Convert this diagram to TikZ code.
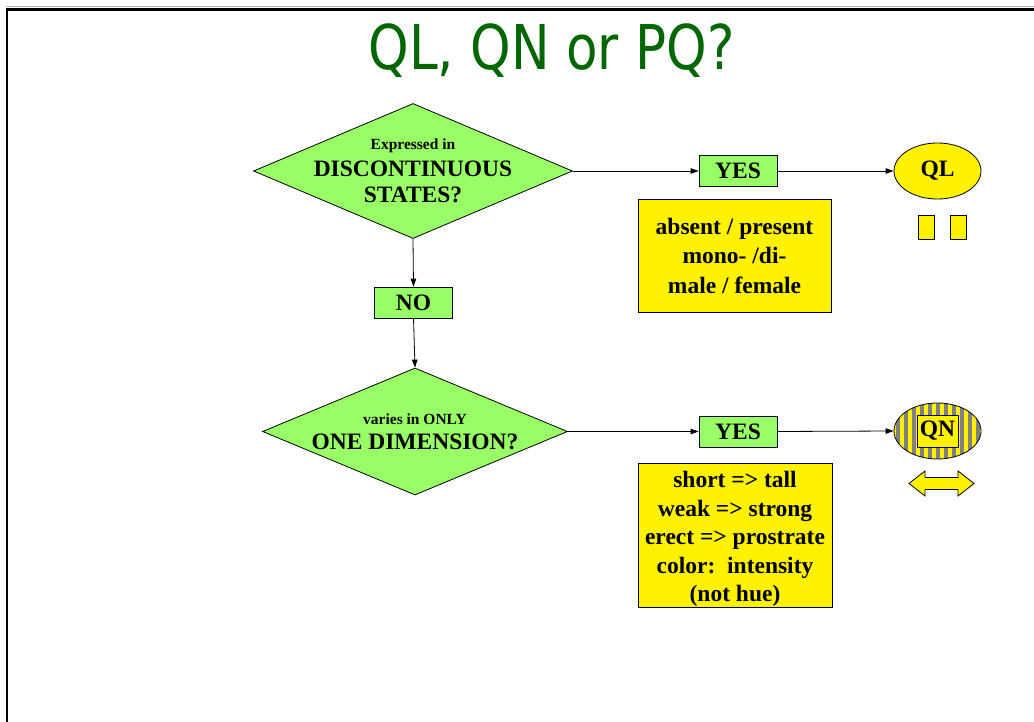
\documentclass[tikz,border=0pt]{standalone}
\usepackage{fontspec}
\setmainfont{Liberation Serif}
\newfontfamily\titlefont{DejaVu Sans}
\usetikzlibrary{shapes.geometric,arrows.meta}
\definecolor{boxgreen}{HTML}{99FF66}
\definecolor{titlegreen}{HTML}{006600}
\newcommand\bigtxt{\fontsize{23.5}{26.5}\selectfont\bfseries}
\newcommand\smalltxt{\fontsize{15.5}{18}\selectfont\bfseries}

\begin{document}
\begin{tikzpicture}[x=1pt,y=-1pt,line width=0.8pt,
  question/.style={diamond,draw,fill=boxgreen,inner sep=0pt},
  answer/.style={draw,fill=boxgreen,minimum width=78pt,minimum height=31pt,inner sep=0pt,font=\bigtxt},
  example/.style={draw,fill=yellow,inner sep=0pt,align=center,font=\bigtxt},
  class/.style={ellipse,draw,minimum width=87pt,minimum height=56pt,inner sep=0pt,font=\bigtxt},
  flow/.style={-{Triangle[length=8pt,width=5.5pt]}}]
  \useasboundingbox (0,0) rectangle (1034,722);
  % slide frame
  \draw[gray!60,line width=1pt] (6,7) -- (1034,7);
  \draw[line width=2.5pt] (7,722) -- (7,9.5) -- (1034,9.5);

  \node[font=\titlefont\fontsize{61.7}{70}\selectfont,text=titlegreen,anchor=base] (title) at (551.5,70) {\scalebox{0.836}[1]{QL, QN or PQ?}};

  \node[question,minimum width=319pt,minimum height=135pt] (d1) at (413,171) {};
  \node[align=center,font=\bigtxt] (d1text) at (d1) {{\smalltxt Expressed in}\\DISCONTINUOUS\\STATES?};
  \node[answer] (no) at (413.5,302.5) {NO};
  \node[question,minimum width=305pt,minimum height=127pt] (d2) at (415,431.5) {};
  \node[align=center,font=\bigtxt] (d2text) at (d2) {{\smalltxt varies in ONLY}\\[-1.5pt]ONE DIMENSION?};

  \node[answer] (yes1) at (738,171) {YES};
  \node[answer] (yes2) at (738,431.5) {YES};
  \node[example,minimum width=193pt,minimum height=113pt] (ex1) at (734.5,255.5) {absent / present\\[3pt]mono- /di-\\[3pt]male / female};
  \node[example,minimum width=194pt,minimum height=144pt] (ex2) at (735,535) {};
  \node[align=center,font=\bigtxt] (ex2text) at ([yshift=-4pt]ex2.center) {short => tall\\[2pt]weak => strong\\[2pt]erect => prostrate\\[2pt]color:\ \ intensity\\[2pt](not hue)};

  \node[class,fill=yellow] (ql) at (937.5,171) {QL};
  \node[draw,fill=yellow,minimum width=16pt,minimum height=24pt,inner sep=0pt] (ql1) at (926,227) {};
  \node[draw,fill=yellow,minimum width=16pt,minimum height=24pt,inner sep=0pt] (ql2) at (958.5,227) {};

  \node[class,path picture={
      \fill[yellow] (path picture bounding box.south west) rectangle (path picture bounding box.north east);
      \foreach \i in {0,...,11}
        \fill[gray] ([xshift=\i*8pt+2pt]path picture bounding box.south west) rectangle ++(4,-60);
    }] (qn) at (937.5,431) {};
  \node[draw,fill=yellow,minimum width=41pt,minimum height=32pt,inner sep=0pt,font=\bigtxt] (qnlabel) at (qn) {QN};
  \draw[fill=yellow] (909,483.5) -- (925,471) -- (925,477.5) -- (958,477.5) -- (958,471) -- (974,483.5)
    -- (958,496) -- (958,489.5) -- (925,489.5) -- (925,496) -- cycle;

  \draw[flow] (d1.south) -- (no.north);
  \draw[flow] (no.south) -- (d2.north);
  \draw[flow] (d1.east) -- (yes1.west);
  \draw[flow] (yes1.east) -- (ql.west);
  \draw[flow] (d2.east) -- (yes2.west);
  \draw[flow] (yes2.east) -- (qn.west);
\end{tikzpicture}
\end{document}
